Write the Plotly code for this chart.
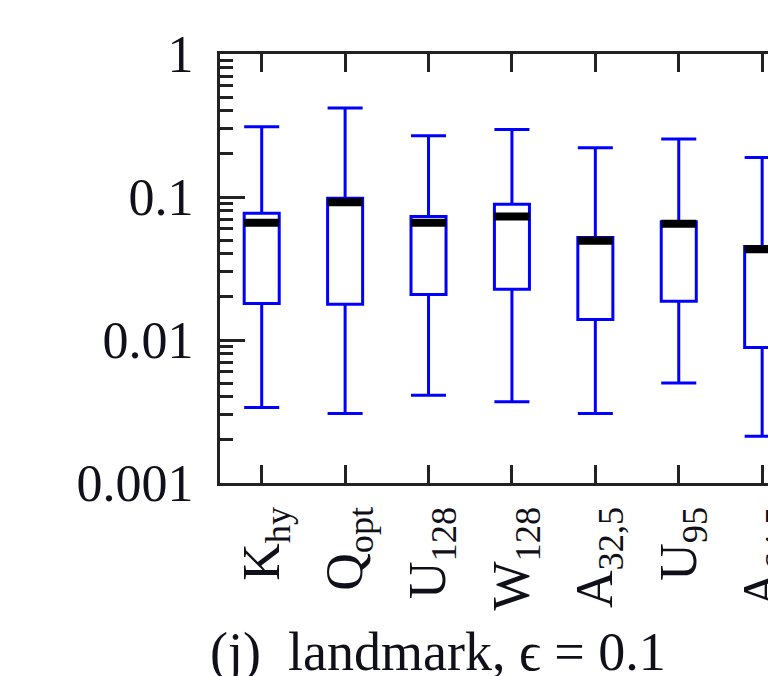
import plotly.graph_objects as go

# Methods (x categories) and their box statistics
methods = ["K<sub>hy</sub>", "Q<sub>opt</sub>", "U<sub>128</sub>", "W<sub>128</sub>",
           "A<sub>32,5</sub>", "U<sub>95</sub>", "A<sub>64,5</sub>"]
upper_whisker = [0.31, 0.42, 0.268, 0.297, 0.221, 0.254, 0.189]
q3_values = [0.077, 0.098, 0.073, 0.089, 0.052, 0.067, 0.045]
median_values = [0.066, 0.092, 0.066, 0.073, 0.0495, 0.065, 0.0432]
q1_values = [0.018, 0.0178, 0.0208, 0.0226, 0.0139, 0.0187, 0.00885]
lower_whisker = [0.00337, 0.00306, 0.0041, 0.0037, 0.00306, 0.005, 0.00212]

y_tick_values = [0.001, 0.01, 0.1, 1]
y_tick_labels = ["0.001", "0.01", "0.1", "1"]
y_minor_values = [m * 10 ** e for e in (-3, -2, -1) for m in range(2, 10)]

caption = "(j)\u2002landmark, \u03f5 = 0.1"

FONT = "Liberation Serif, Times New Roman, serif"
AXIS_COLOR = "#222222"
TEXT_COLOR = "#10101a"
BLUE = "#0000ff"

fig = go.Figure()

fig.add_trace(go.Box(
    x=methods,
    q1=q1_values,
    median=median_values,
    q3=q3_values,
    lowerfence=lower_whisker,
    upperfence=upper_whisker,
    line=dict(color=BLUE, width=3),
    fillcolor="rgba(255,255,255,0)",
    whiskerwidth=1,
    width=0.42,
    boxpoints=False,
    hoverinfo="skip",
    showlegend=False,
))

# Thick black median bars on top of the boxes
fig.add_trace(go.Scatter(
    x=methods,
    y=median_values,
    mode="markers",
    marker=dict(symbol="line-ew", size=25, line=dict(width=8, color="black")),
    hoverinfo="skip",
    showlegend=False,
))

fig.update_layout(
    width=768,
    height=676,
    margin=dict(l=220, r=0, t=54, b=193),
    paper_bgcolor="white",
    plot_bgcolor="white",
    font=dict(family=FONT, size=52, color=TEXT_COLOR),
    xaxis=dict(
        type="category",
        range=[-0.5, 6.07],
        showline=True,
        linewidth=3,
        linecolor=AXIS_COLOR,
        mirror="ticks",
        ticks="inside",
        ticklen=18,
        tickwidth=2.5,
        tickcolor=AXIS_COLOR,
        tickangle=-90,
        tickfont=dict(family=FONT, size=52, color=TEXT_COLOR),
        ticklabelstandoff=0,
        showgrid=False,
        zeroline=False,
        automargin=False,
    ),
    yaxis=dict(
        type="log",
        range=[-3, 0],
        tickmode="array",
        tickvals=y_tick_values,
        ticktext=y_tick_labels,
        showline=True,
        linewidth=3,
        linecolor=AXIS_COLOR,
        mirror=False,
        ticks="inside",
        ticklen=25,
        tickwidth=2.5,
        tickcolor=AXIS_COLOR,
        tickfont=dict(family=FONT, size=52, color=TEXT_COLOR),
        ticklabelstandoff=13,
        minor=dict(
            tickmode="array",
            tickvals=y_minor_values,
            ticks="inside",
            ticklen=13,
            tickwidth=2.5,
            tickcolor=AXIS_COLOR,
            showgrid=False,
        ),
        showgrid=False,
        zeroline=False,
        automargin=False,
    ),
    annotations=[dict(
        text=caption,
        xref="paper", yref="paper",
        x=(438 - 220) / 548, y=-0.395,
        xanchor="center", yanchor="middle",
        showarrow=False,
        font=dict(family=FONT, size=54, color=TEXT_COLOR),
    )],
)

fig.write_html("out.html")
